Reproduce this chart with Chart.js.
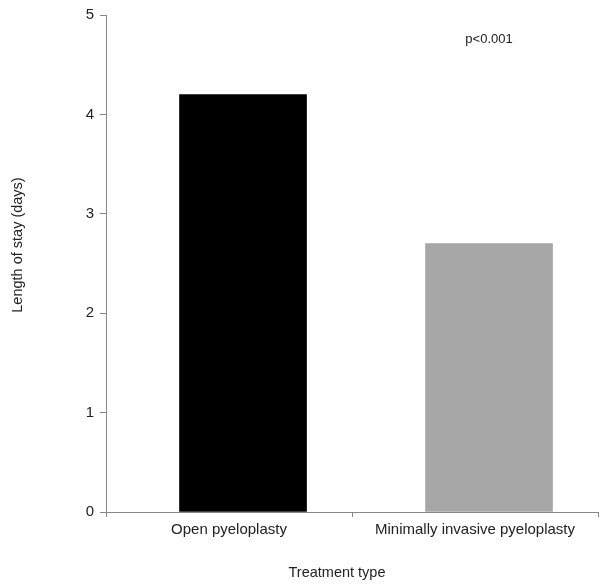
<!DOCTYPE html>
<html>
<head>
<meta charset="utf-8">
<script src="https://cdn.jsdelivr.net/npm/chart.js@4"></script>
<style>
  html, body { margin:0; padding:0; background:#fff; }
  #wrap { width:604px; height:587px; }
</style>
</head>
<body>
<div id="wrap"><canvas id="chart" width="604" height="587"></canvas></div>
<script>
// DATA
const categories = ['Open pyeloplasty', 'Minimally invasive pyeloplasty'];
const stayDays = [4.2, 2.7];
const barColors = ['#000000', '#a6a6a6'];
const yTicks = [0, 1, 2, 3, 4, 5];
const pLabel = 'p<0.001';
const pLevel = 4.75;

// bars sit a little right of the category centre in the original
const barShift = 0.057;
const FONT = '"Liberation Sans", Arial, sans-serif';

// axis titles + p value text
const extras = {
  id: 'extras',
  afterDraw(chart){
    const c = chart.ctx;
    const xb = chart.scales.xb, y = chart.scales.y;
    c.save();
    c.fillStyle = '#222';
    c.textAlign = 'center';
    c.textBaseline = 'middle';
    c.font = '13px ' + FONT;
    c.fillText(pLabel, xb.getPixelForValue(1.5 + barShift), y.getPixelForValue(pLevel));
    c.font = '14.5px ' + FONT;
    c.fillText('Treatment type', 337, 573);
    c.translate(18, 245);
    c.rotate(-Math.PI / 2);
    c.fillText('Length of stay (days)', 0, 0);
    c.restore();
  }
};

const ctx = document.getElementById('chart');
new Chart(ctx, {
  type:'bar',
  data:{
    labels:categories,
    datasets:[{
      xAxisID:'xb',
      data:stayDays.map((v, i) => ({ x: i + 0.5 + barShift, y: v })),
      backgroundColor:barColors,
      barThickness:127
    }]
  },
  options:{
    responsive:false,
    animation:false,
    layout:{ padding:{ top:12, right:6, left:0, bottom:0 } },
    plugins:{
      legend:{ display:false },
      tooltip:{ enabled:false }
    },
    scales:{
      x:{
        offset:true,
        grid:{ offset:true, drawOnChartArea:false, drawTicks:true, tickLength:5, color:'#888' },
        border:{ color:'#888' },
        ticks:{ color:'#222', padding:4, font:{ family:FONT, size:15 } },
        afterFit(s){ s.height = 75; }
      },
      xb:{
        type:'linear',
        min:0, max:2,
        offset:false,
        display:false
      },
      y:{
        min:0, max:5,
        afterBuildTicks(s){ s.ticks = yTicks.map(v => ({ value:v })); },
        grid:{ drawOnChartArea:false, drawTicks:true, tickLength:6, color:'#888' },
        border:{ color:'#888' },
        ticks:{ color:'#222', padding:6, font:{ family:FONT, size:15 } },
        afterFit(s){ s.width = 106; }
      }
    }
  },
  plugins:[extras]
});
</script>
</body>
</html>
